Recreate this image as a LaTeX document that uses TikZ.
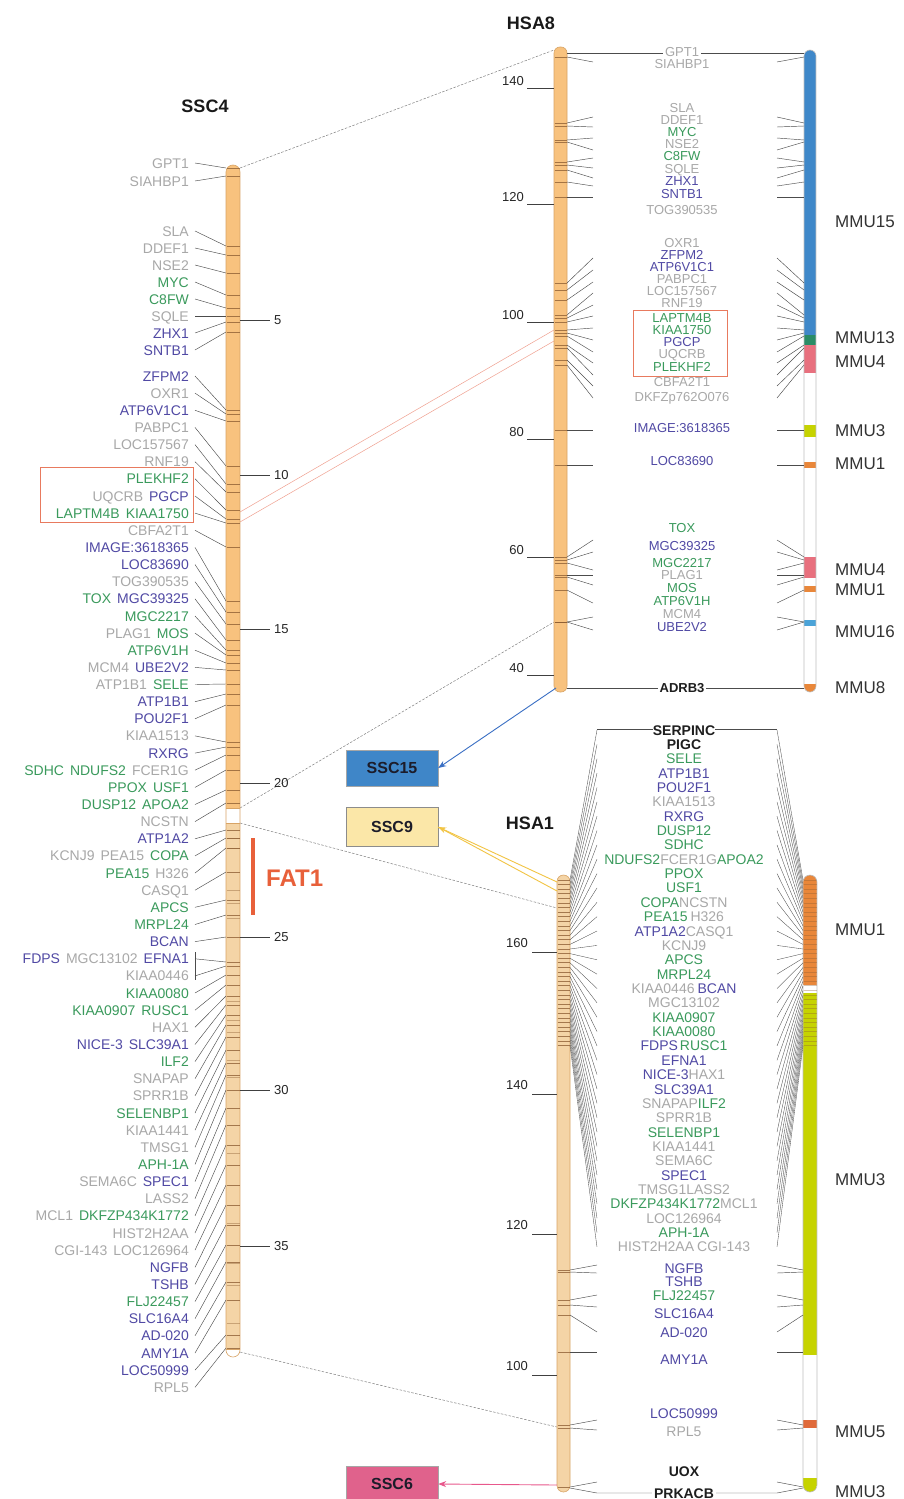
\documentclass[tikz,border=0pt]{standalone}
\usepackage{fontspec}
\setmainfont{Liberation Sans}
\usetikzlibrary{arrows.meta}
\definecolor{ggreen}{HTML}{3A9A5C}
\definecolor{gpurple}{HTML}{5049A4}
\definecolor{ggray}{HTML}{A8A8A8}
\definecolor{gblack}{HTML}{1E1E1E}
\definecolor{chrorange}{HTML}{F8C27E}
\definecolor{chrtan}{HTML}{F4D4A6}
\definecolor{chredge}{HTML}{D8A466}
\definecolor{bandc}{HTML}{8A5A30}
\definecolor{mblue}{HTML}{3F88C9}
\definecolor{mteal}{HTML}{2A8C66}
\definecolor{mpink}{HTML}{E8707E}
\definecolor{myg}{HTML}{C6D300}
\definecolor{morange}{HTML}{E9873A}
\definecolor{mred}{HTML}{E06A3A}
\definecolor{mlblue}{HTML}{4BA3D8}
\definecolor{boxred}{HTML}{E87A5E}
\definecolor{fatred}{HTML}{E8603A}
\definecolor{sscblue}{HTML}{3F86C8}
\definecolor{sscyel}{HTML}{FBE7A8}
\definecolor{sscpink}{HTML}{E0628C}
\definecolor{boxtext}{HTML}{1C1C2A}
\definecolor{arrblue}{HTML}{3A6FC4}
\definecolor{arryel}{HTML}{F2C443}
\definecolor{arrpink}{HTML}{E8588C}
\definecolor{redln}{HTML}{F0A090}
\newcommand\gnG[1]{{\color{ggreen}#1}}
\newcommand\gnP[1]{{\color{gpurple}#1}}
\newcommand\gnY[1]{{\color{ggray}#1}}
\newcommand\gnK[1]{{\color{gblack}\bfseries #1}}
\newcommand\gsp{\hspace{6pt}}
\tikzset{
 gene/.style={font=\fontsize{14}{14}\selectfont, inner sep=0pt, text height=10pt, text depth=0pt},
 geneb/.style={font=\fontsize{13}{13}\selectfont, inner sep=0pt, text height=9.3pt, text depth=0pt},
 conn/.style={draw=black!70, line width=0.45pt},
 bandln/.style={draw=bandc, line width=0.8pt, opacity=0.75},
 tickln/.style={draw=black!75, line width=0.9pt},
 ticklbl/.style={font=\fontsize{13}{13}\selectfont, text=black!85, inner sep=0pt},
 ttl/.style={font=\bfseries\fontsize{18}{18}\selectfont, text=black!90, inner sep=0pt},
 mmu/.style={font=\fontsize{17}{17}\selectfont, text=black!80, anchor=west, inner sep=0pt},
 synt/.style={draw=black!50, line width=0.5pt, dash pattern=on 2.5pt off 1.5pt},
 chrout/.style={draw=chredge, line width=0.6pt},
 sscbox/.style={draw=black!35, minimum width=92pt, minimum height=36pt, inner sep=0pt, font=\bfseries\fontsize{16}{16}\selectfont, text=boxtext},
}
\begin{document}
\begin{tikzpicture}[x=1pt,y=-1pt]
\fill[white] (0,0) rectangle (904,1499);
\useasboundingbox (0,0) rectangle (904,1499);

% ---------- synteny lines ----------
\coordinate (s4top) at (240,168);
\coordinate (s4o) at (240,808);
\coordinate (s4t) at (240,823);
\coordinate (s4bot) at (240,1352);
\coordinate (h8top) at (554,50);
\coordinate (h8m) at (554,622);
\coordinate (h1a) at (557,908);
\coordinate (h1b) at (557,1427);
\draw[synt] (s4top) -- (h8top);
\draw[synt] (s4o) -- (h8m);
\draw[synt] (s4t) -- (h1a);
\draw[synt] (s4bot) -- (h1b);
\coordinate (r1a) at (240,512);
\coordinate (r1b) at (554,330);
\coordinate (r2a) at (240,522);
\coordinate (r2b) at (554,341);
\draw[redln, line width=0.5pt] (r1a) -- (r1b);
\draw[redln, line width=0.5pt] (r2a) -- (r2b);

% ---------- SSC4 chromosome ----------
\node[ttl] (tssc4) at (205,106) {SSC4};
\begin{scope}
\clip[rounded corners=7pt] (226,165) rectangle (240,1357);
\fill[chrorange] (226,160) rectangle (240,808);
\fill[chrtan] (226,823) rectangle (240,1349);
\end{scope}
\draw[chrout, rounded corners=7pt] (226,165) rectangle (240,1357);
\draw[chrout] (226,808) -- (240,808) (226,823) -- (240,823) (226,1349) -- (240,1349);
\foreach \v/\y in {5/320,10/475,15/629,20/783,25/937,30/1090,35/1246}{
  \draw[tickln] (240,\y) -- (270,\y);
  \node[ticklbl, anchor=west] at (274,\y) {\v};
}
\foreach \b in {838,848,890,903,918,1001,1020,1032,1060,1077,1153,1223,1263,1285,1323}{
  \draw[bandln, opacity=0.4] (226.5,\b) -- (239.5,\b);
}

\foreach \ly/\cy/\t [count=\k] in {
163/168/{\gnY{GPT1}},
181/176/{\gnY{SIAHBP1}},
231/246/{\gnY{SLA}},
248/255/{\gnY{DDEF1}},
265/273/{\gnY{NSE2}},
282/295/{\gnG{MYC}},
299/308/{\gnG{C8FW}},
316/316/{\gnY{SQLE}},
333/322/{\gnP{ZHX1}},
350/332/{\gnP{SNTB1}},
376.0/410/{\gnP{ZFPM2}},
393.1/414/{\gnY{OXR1}},
410.3/421/{\gnP{ATP6V1C1}},
427.4/466/{\gnY{PABPC1}},
444.6/484/{\gnY{LOC157567}},
461.7/492/{\gnY{RNF19}},
478.8/510/{\gnG{PLEKHF2}},
496.0/519/{\gnY{UQCRB}\gsp\gnP{PGCP}},
513.1/523/{\gnG{LAPTM4B}\gsp\gnG{KIAA1750}},
530.3/547/{\gnY{CBFA2T1}},
547.4/601/{\gnP{IMAGE:3618365}},
564.5/612/{\gnP{LOC83690}},
581.7/624/{\gnY{TOG390535}},
598.8/640/{\gnG{TOX}\gsp\gnP{MGC39325}},
616.0/650/{\gnG{MGC2217}},
633.1/655/{\gnY{PLAG1}\gsp\gnG{MOS}},
650.2/663/{\gnG{ATP6V1H}},
667.4/670/{\gnY{MCM4}\gsp\gnP{UBE2V2}},
684.5/684/{\gnY{ATP1B1}\gsp\gnG{SELE}},
701.7/694/{\gnP{ATP1B1}},
718.8/705/{\gnP{POU2F1}},
735.9/742/{\gnY{KIAA1513}},
753.1/747/{\gnP{RXRG}},
770.2/755/{\gnG{SDHC}\gsp\gnG{NDUFS2}\gsp\gnY{FCER1G}},
787.4/770/{\gnG{PPOX}\gsp\gnG{USF1}},
804.5/790/{\gnG{DUSP12}\gsp\gnG{APOA2}},
821.6/803/{\gnY{NCSTN}},
838.8/830/{\gnP{ATP1A2}},
855.9/838/{\gnY{KCNJ9}\gsp\gnY{PEA15}\gsp\gnG{COPA}},
873.1/848/{\gnG{PEA15}\gsp\gnY{H326}},
890.2/872/{\gnY{CASQ1}},
907.3/900/{\gnG{APCS}},
924.5/915/{\gnG{MRPL24}},
941.6/937/{\gnP{BCAN}},
958.8/962/{\gnP{FDPS}\gsp\gnY{MGC13102}\gsp\gnP{EFNA1}},
975.9/966/{\gnY{KIAA0446}},
993.0/975/{\gnG{KIAA0080}},
1010.2/985/{\gnG{KIAA0907}\gsp\gnG{RUSC1}},
1027.3/996/{\gnY{HAX1}},
1044.5/1005/{\gnP{NICE-3}\gsp\gnP{SLC39A1}},
1061.6/1015/{\gnG{ILF2}},
1078.7/1025/{\gnY{SNAPAP}},
1095.9/1037/{\gnY{SPRR1B}},
1113.0/1050/{\gnG{SELENBP1}},
1130.2/1063/{\gnY{KIAA1441}},
1147.3/1075/{\gnY{TMSG1}},
1164.4/1090/{\gnG{APH-1A}},
1181.6/1108/{\gnY{SEMA6C}\gsp\gnP{SPEC1}},
1198.7/1125/{\gnY{LASS2}},
1215.9/1145/{\gnY{MCL1}\gsp\gnG{DKFZP434K1772}},
1233.0/1165/{\gnY{HIST2H2AA}},
1250.1/1185/{\gnY{CGI-143}\gsp\gnY{LOC126964}},
1267.3/1205/{\gnP{NGFB}},
1284.4/1225/{\gnP{TSHB}},
1301.6/1245/{\gnG{FLJ22457}},
1318.7/1262/{\gnP{SLC16A4}},
1335.8/1282/{\gnP{AD-020}},
1353.0/1300/{\gnP{AMY1A}},
1370.1/1335/{\gnP{LOC50999}},
1387.3/1348/{\gnY{RPL5}}}{
  \node[gene, anchor=east] (s\k) at (189,\ly) {\t};
  \coordinate (sa\k) at (195,\ly);
  \coordinate (sb\k) at (226,\cy);
  \draw[conn] (sa\k) -- (sb\k);
  \draw[bandln] (226.5,\cy) -- (239.5,\cy);
}
\draw[conn] (195,952) -- (195,980);
\node[draw=boxred, line width=0.9pt, minimum width=153pt, minimum height=55pt, inner sep=0pt] (ssc4box) at (116.5,495) {};
\draw[fatred, line width=3.5pt] (253,838) -- (253,915);
\node[font=\bfseries\fontsize{24}{24}\selectfont, text=fatred, anchor=west, inner sep=0pt] (fat1) at (266,878) {FAT1};

% ---------- HSA8 ----------
\node[ttl] (thsa8) at (531,23) {HSA8};
\draw[chrout, fill=chrorange, rounded corners=6pt] (554,47) rectangle (567,692);
\foreach \v/\y in {140/88,120/204,100/322,80/439,60/557,40/675}{
  \draw[tickln] (527,\y) -- (554,\y);
  \node[ticklbl, anchor=east] at (524,{\y-7}) {\v};
}
% MMU column for HSA8
\begin{scope}
\clip[rounded corners=6pt] (804,50) rectangle (816,692);
\fill[white] (804,45) rectangle (816,695);
\fill[mblue] (804,45) rectangle (816,335);
\fill[mteal] (804,335) rectangle (816,345);
\fill[mpink] (804,345) rectangle (816,373);
\fill[myg] (804,425) rectangle (816,437);
\fill[morange] (804,462) rectangle (816,468);
\fill[mpink] (804,557) rectangle (816,578);
\fill[morange] (804,586) rectangle (816,592);
\fill[mlblue] (804,620) rectangle (816,626);
\fill[morange] (804,684) rectangle (816,695);
\end{scope}
\draw[black!25, line width=0.6pt, rounded corners=6pt] (804,50) rectangle (816,692);
\foreach \t/\y in {MMU15/222,MMU13/338,MMU4/362,MMU3/431,MMU1/464,MMU4/570,MMU1/590,MMU16/632,MMU8/688}{
  \node[mmu] at (835,\y) {\t};
}
\coordinate (gptA) at (567,53);
\coordinate (gptB) at (804,53);
\draw[conn] (gptA) -- (gptB);
\node[geneb, fill=white, inner xsep=2pt] (gpt1) at (682,52) {\gnY{GPT1}};
\coordinate (adrA) at (567,688);
\coordinate (adrB) at (804,688);
\draw[conn] (adrA) -- (adrB);
\node[geneb, fill=white, inner xsep=2pt] (adrb3) at (682,688) {\gnK{ADRB3}};
\foreach \ly/\ey/\cy/\t [count=\k] in {
64/62/57/{\gnY{SIAHBP1}},
108/117/123/{\gnY{SLA}},
120/127/126/{\gnY{DDEF1}},
132/138/140/{\gnG{MYC}},
144/150/142/{\gnY{NSE2}},
156/158/162/{\gnG{C8FW}},
168.5/168/165/{\gnY{SQLE}},
181/178/170/{\gnP{ZHX1}},
194/186/182/{\gnP{SNTB1}},
210/197/197/{\gnY{TOG390535}},
243/258/283/{\gnY{OXR1}},
255/270/290/{\gnP{ZFPM2}},
267/282/300/{\gnP{ATP6V1C1}},
279/293/315/{\gnY{PABPC1}},
291/305/318/{\gnY{LOC157567}},
303/316/322/{\gnY{RNF19}},
318/328/330/{\gnG{LAPTM4B}},
330/340/333/{\gnG{KIAA1750}},
342/352/336/{\gnP{PGCP}},
354/363/345/{\gnY{UQCRB}},
367/375/348/{\gnG{PLEKHF2}},
382/386/360/{\gnY{CBFA2T1}},
397/398/365/{\gnY{DKFZp762O076}},
428/430/430/{\gnP{IMAGE:3618365}},
461/465/465/{\gnP{LOC83690}},
528/540/557/{\gnG{TOX}},
546/552/560/{\gnP{MGC39325}},
563/570/563/{\gnG{MGC2217}},
575/575/575/{\gnY{PLAG1}},
587.5/585/577/{\gnG{MOS}},
600.5/603/590/{\gnG{ATP6V1H}},
614/617/622/{\gnY{MCM4}},
627/630/622/{\gnP{UBE2V2}}}{
  \node[geneb, fill=white] (e\k) at (682,\ly) {\t};
  \coordinate (ea\k) at (567,\cy);
  \coordinate (eb\k) at (593,\ey);
  \coordinate (ec\k) at (777,\ey);
  \coordinate (ed\k) at (804,\cy);
  \draw[conn] (ea\k) -- (eb\k);
  \draw[conn] (ec\k) -- (ed\k);
  \draw[bandln] (554.5,\cy) -- (566.5,\cy);
}
\node[draw=boxred, line width=0.9pt, minimum width=94pt, minimum height=66pt, inner sep=0pt] (hsa8box) at (680,343) {};

% ---------- HSA1 ----------
\node[ttl] (thsa1) at (530,823) {HSA1};
\draw[chrout, fill=chrtan, rounded corners=6.5pt] (557,875) rectangle (570,1492);
\foreach \v/\y in {160/952,140/1094,120/1234,100/1375}{
  \draw[tickln] (532,\y) -- (557,\y);
  \node[ticklbl, anchor=east] at (528,{\y-9}) {\v};
}
\begin{scope}
\clip[rounded corners=7pt] (803,875) rectangle (817,1492);
\fill[white] (803,870) rectangle (817,1495);
\fill[morange] (803,870) rectangle (817,985);
\fill[myg] (803,993) rectangle (817,1355);
\fill[mred] (803,1420) rectangle (817,1428);
\fill[myg] (803,1478) rectangle (817,1495);
\end{scope}
\draw[black!25, line width=0.6pt, rounded corners=7pt] (803,875) rectangle (817,1492);
\foreach \t/\y in {MMU1/930,MMU3/1180,MMU5/1432,MMU3/1492}{
  \node[mmu] at (835,\y) {\t};
}
\coordinate (serL) at (597,729);
\coordinate (serR) at (777,729);
\draw[conn] (serL) -- (serR);
\foreach \t [count=\k from 0, evaluate=\k as \ly using 730+14.36*\k, evaluate=\k as \cy using 880+4.6*\k] in {
{\gnK{SERPINC}},
{\gnK{PIGC}},
{\gnG{SELE}},
{\gnP{ATP1B1}},
{\gnP{POU2F1}},
{\gnY{KIAA1513}},
{\gnP{RXRG}},
{\gnG{DUSP12}},
{\gnG{SDHC}},
{\gnG{NDUFS2}\gnY{FCER1G}\gnG{APOA2}},
{\gnG{PPOX}},
{\gnG{USF1}},
{\gnG{COPA}\gnY{NCSTN}},
{\gnG{PEA15}\hspace{3pt}\gnY{H326}},
{\gnP{ATP1A2}\gnY{CASQ1}},
{\gnY{KCNJ9}},
{\gnG{APCS}},
{\gnG{MRPL24}},
{\gnY{KIAA0446}\hspace{3pt}\gnP{BCAN}},
{\gnY{MGC13102}},
{\gnG{KIAA0907}},
{\gnG{KIAA0080}},
{\gnP{FDPS}\hspace{2pt}\gnG{RUSC1}},
{\gnP{EFNA1}},
{\gnP{NICE-3}\gnY{HAX1}},
{\gnP{SLC39A1}},
{\gnY{SNAPAP}\gnG{ILF2}},
{\gnY{SPRR1B}},
{\gnG{SELENBP1}},
{\gnY{KIAA1441}},
{\gnY{SEMA6C}},
{\gnP{SPEC1}},
{\gnY{TMSG1}\gnY{LASS2}},
{\gnG{DKFZP434K1772}\gnY{MCL1}},
{\gnY{LOC126964}},
{\gnG{APH-1A}},
{\gnY{HIST2H2AA}\hspace{3pt}\gnY{CGI-143}}}{
  \node[gene, fill=white] (h\k) at (684,\ly) {\t};
  \coordinate (ha\k) at (570,\cy);
  \coordinate (hb\k) at (597,\ly);
  \coordinate (hc\k) at (777,\ly);
  \coordinate (hd\k) at (803,\cy);
  \draw[conn, line width=0.35pt] (ha\k) -- (hb\k);
  \draw[conn, line width=0.35pt] (hc\k) -- (hd\k);
  \draw[bandln] (557.5,\cy) -- (569.5,\cy);
  \draw[bandln, opacity=0.35] (803.5,\cy) -- (816.5,\cy);
}
\foreach \ly/\ey/\cy/\t [count=\k] in {
1268/1265/1270/{\gnP{NGFB}},
1281/1273/1272/{\gnP{TSHB}},
1295/1295/1300/{\gnG{FLJ22457}},
1313/1307/1305/{\gnP{SLC16A4}},
1332/1332/1315/{\gnP{AD-020}},
1359/1352/1352/{\gnP{AMY1A}},
1413/1420/1425/{\gnP{LOC50999}},
1431/1430/1428/{\gnY{RPL5}},
1471/1482/1487/{\gnK{UOX}}}{
  \node[gene, fill=white] (g\k) at (684,\ly) {\t};
  \coordinate (ga\k) at (570,\cy);
  \coordinate (gb\k) at (597,\ey);
  \coordinate (gc\k) at (777,\ey);
  \coordinate (gd\k) at (803,\cy);
  \draw[conn] (ga\k) -- (gb\k);
  \draw[conn] (gc\k) -- (gd\k);
  \draw[bandln] (557.5,\cy) -- (569.5,\cy);
}
\coordinate (prkA) at (570,1488);
\coordinate (prkB) at (597,1493);
\coordinate (prkC) at (777,1493);
\coordinate (prkD) at (803,1488);
\draw[conn] (prkA) -- (prkB) -- (prkC) -- (prkD);
\node[gene, fill=white, inner xsep=2pt] (prkacb) at (684,1493) {\gnK{PRKACB}};

% ---------- SSC target boxes and arrows ----------
\node[sscbox, fill=sscblue] (ssc15) at (392,768) {SSC15};
\node[sscbox, fill=sscyel, draw=black!45, minimum height=39pt] (ssc9) at (392,827) {SSC9};
\node[sscbox, fill=sscpink, minimum height=36pt] (ssc6) at (392,1484) {SSC6};
\coordinate (h8bot) at (556,688);
\coordinate (h1y1) at (557,882);
\coordinate (h1y2) at (557,891);
\coordinate (h1bot) at (557,1485);
\draw[arrblue, line width=0.9pt, -{Stealth[length=8pt,width=6pt]}] (h8bot) -- (ssc15.east);
\draw[arryel, line width=0.9pt, -{Stealth[length=8pt,width=6pt]}] (h1y1) -- (ssc9.east);
\draw[arryel, line width=0.9pt] (h1y2) -- (ssc9.east);
\draw[arrpink, line width=0.9pt, -{Stealth[length=8pt,width=6pt]}] (h1bot) -- (ssc6.east);
\end{tikzpicture}
\end{document}
